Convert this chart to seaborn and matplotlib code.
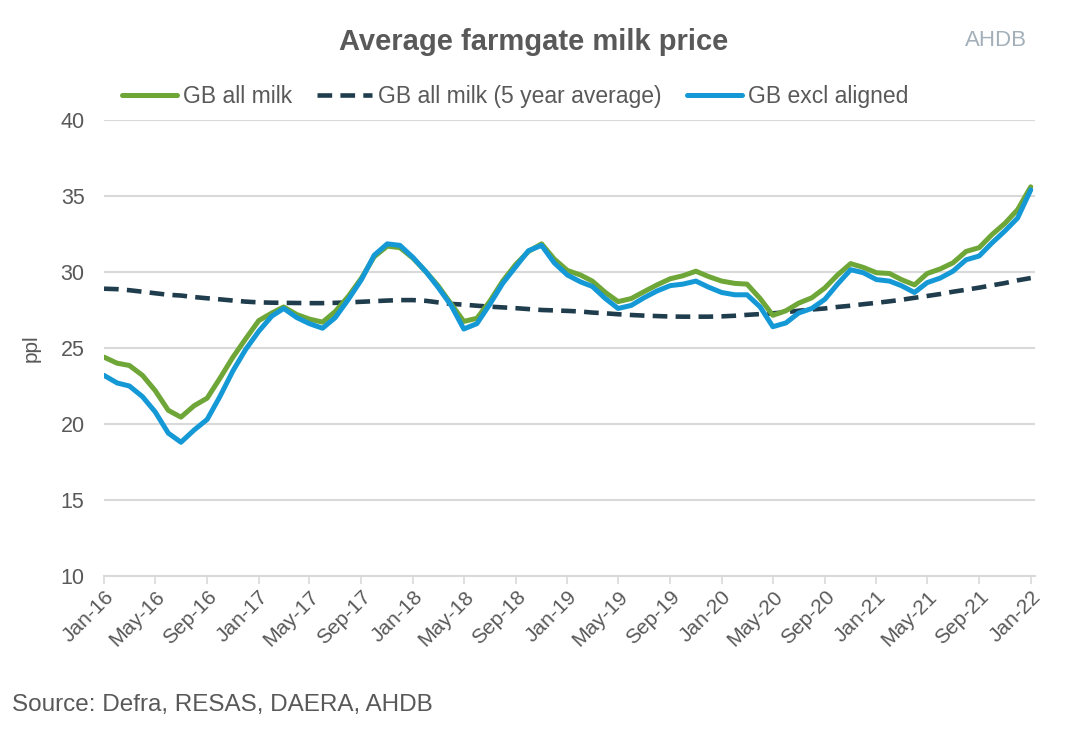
import numpy as np
import pandas as pd
import seaborn as sns
import matplotlib.pyplot as plt
import matplotlib.dates as mdates

sns.set_theme(style="white")
plt.rcParams['font.family'] = ['Liberation Sans', 'DejaVu Sans']

# Data (ppl), monthly Jan-16 .. Jan-22

months = pd.date_range("2016-01-01", "2022-01-01", freq="MS")

gb_all_milk = [
    24.4, 24.0, 23.85, 23.2, 22.2, 20.9, 20.45, 21.2, 21.7, 23.0, 24.4, 25.6,
    26.8, 27.3, 27.7, 27.2, 26.9, 26.7, 27.4, 28.4, 29.6, 31.0, 31.7, 31.6,
    30.9, 30.0, 29.1, 27.9, 26.75, 26.95, 28.05, 29.4, 30.5, 31.35, 31.85, 30.85,
    30.1, 29.8, 29.4, 28.65, 28.05, 28.25, 28.7, 29.15, 29.55, 29.75, 30.05, 29.7,
    29.4, 29.25, 29.2, 28.25, 27.15, 27.45, 27.95, 28.3, 28.95, 29.8, 30.55, 30.3,
    29.95, 29.9, 29.5, 29.15, 29.9, 30.2, 30.6, 31.35, 31.6, 32.45, 33.2, 34.1,
    35.6,
]

gb_5yr_avg = [
    28.9, 28.87, 28.8, 28.7, 28.6, 28.5, 28.45, 28.35, 28.27, 28.2, 28.12, 28.05,
    28.0, 27.98, 27.97, 27.96, 27.95, 27.95, 27.97, 28.0, 28.04, 28.08, 28.12, 28.15,
    28.15, 28.1, 28.0, 27.9, 27.85, 27.78, 27.72, 27.67, 27.62, 27.56, 27.5, 27.47,
    27.44, 27.4, 27.33, 27.28, 27.22, 27.17, 27.13, 27.1, 27.07, 27.06, 27.06, 27.06,
    27.08, 27.12, 27.18, 27.23, 27.28, 27.35, 27.45, 27.53, 27.6, 27.7, 27.78, 27.88,
    27.97, 28.07, 28.17, 28.3, 28.42, 28.55, 28.7, 28.83, 28.97, 29.12, 29.27, 29.45,
    29.6,
]

gb_excl_aligned = [
    23.2, 22.7, 22.5, 21.8, 20.8, 19.4, 18.8, 19.6, 20.3, 21.8, 23.5, 24.9,
    26.1, 27.1, 27.6, 27.0, 26.6, 26.3, 27.0, 28.2, 29.5, 31.1, 31.85, 31.75,
    30.95, 30.0, 29.0, 27.8, 26.25, 26.6, 27.85, 29.25, 30.35, 31.4, 31.75, 30.6,
    29.8, 29.35, 29.05, 28.25, 27.6, 27.8, 28.3, 28.75, 29.1, 29.2, 29.4, 29.0,
    28.65, 28.5, 28.5, 27.7, 26.4, 26.65, 27.3, 27.6, 28.2, 29.2, 30.15, 29.95,
    29.5, 29.4, 29.1, 28.65, 29.3, 29.6, 30.05, 30.8, 31.05, 31.9, 32.7, 33.55,
    35.4,
]

y_ticks = [10, 15, 20, 25, 30, 35, 40]

GREEN = "#6ea638"
BLUE = "#1599d6"
DARK = "#1f3d4d"
GREY = "#595959"

fig = plt.figure(figsize=(10.8, 7.45), dpi=100)
ax = fig.add_axes([0.0963, 0.2268, 0.862, 0.6122])

sns.lineplot(x=months, y=gb_5yr_avg, ax=ax, color=DARK, lw=3.3,
             linestyle=(0, (3.2, 1.8)), label="GB all milk (5 year average)")
sns.lineplot(x=months, y=gb_all_milk, ax=ax, color=GREEN, lw=3.6,
             label="GB all milk")
sns.lineplot(x=months, y=gb_excl_aligned, ax=ax, color=BLUE, lw=3.6,
             label="GB excl aligned")

ax.set_ylim(10, 40)
ax.set_yticks(y_ticks)
ax.set_xlim(months[0], months[-1] + pd.Timedelta(days=10))
ax.xaxis.set_major_locator(mdates.MonthLocator(bymonth=[1, 5, 9]))
ax.xaxis.set_major_formatter(mdates.DateFormatter("%b-%y"))

ax.grid(axis="y", color="#d9d9d9", lw=1.5)
ax.grid(axis="x", visible=False)
for s in ["left", "top", "right"]:
    ax.spines[s].set_visible(False)
ax.spines["bottom"].set_color("#d9d9d9")
ax.spines["bottom"].set_linewidth(1.5)

ax.tick_params(axis="y", length=0, pad=14, labelsize=15.5, labelcolor=GREY)
ax.tick_params(axis="x", length=6, width=1.2, color="#d9d9d9", pad=2,
               labelsize=15, labelcolor=GREY, bottom=True)
for lab in ax.get_xticklabels():
    lab.set_rotation(45)
    lab.set_ha("right")
    lab.set_rotation_mode("anchor")

ax.set_xlabel("")
ax.set_ylabel("ppl", fontsize=15, color=GREY, labelpad=14)

# legend in the order of the reference
handles, labels = ax.get_legend_handles_labels()
order = [labels.index(n) for n in
         ["GB all milk", "GB all milk (5 year average)", "GB excl aligned"]]
ax.get_legend().remove()
fig.legend([handles[i] for i in order], [labels[i] for i in order],
           loc="center", bbox_to_anchor=(0.477, 0.870), ncol=3, frameon=False,
           fontsize=16.5, handlelength=2.4, handletextpad=0.25, columnspacing=1.1,
           labelcolor=GREY)

fig.text(0.494, 0.944, "Average farmgate milk price", ha="center", va="center",
         fontsize=21, fontweight="bold", color=GREY)
fig.text(0.922, 0.945, "AHDB", ha="center", va="center", fontsize=16,
         color="#a3b0b9")
fig.text(0.011, 0.054, "Source: Defra, RESAS, DAERA, AHDB", ha="left",
         va="center", fontsize=17.5, color=GREY)

fig.savefig("out.png", dpi=100)
